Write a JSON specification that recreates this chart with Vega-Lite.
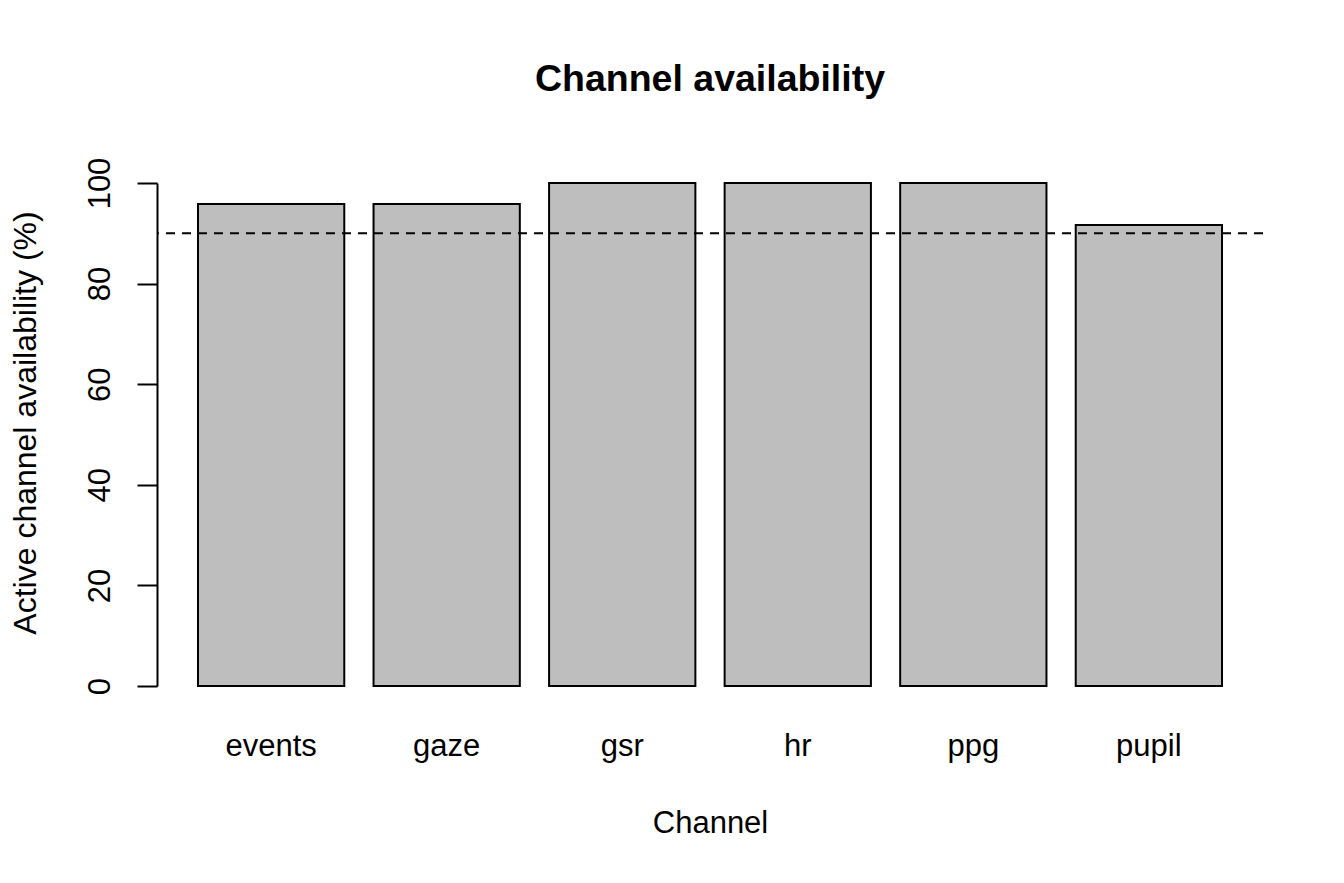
{
  "$schema": "https://vega.github.io/schema/vega-lite/v6.json",
  "description": "Channel availability bar chart",
  "autosize": {"type": "none"},
  "padding": {"left": 157, "top": 163, "right": 81, "bottom": 177},
  "width": 1106,
  "height": 543,
  "background": "white",
  "title": {
    "text": "Channel availability",
    "font": "Liberation Sans",
    "fontSize": 37.5,
    "fontWeight": "bold",
    "color": "black",
    "frame": "group",
    "anchor": "middle",
    "baseline": "alphabetic",
    "offset": 29
  },
  "config": {
    "view": {"stroke": null},
    "axis": {"labelFont": "Liberation Sans", "titleFont": "Liberation Sans", "labelColor": "black", "titleColor": "black", "grid": false}
  },
  "data": {
    "values": [
      {"channel": "events", "availability": 95.83},
      {"channel": "gaze", "availability": 95.83},
      {"channel": "gsr", "availability": 100},
      {"channel": "hr", "availability": 100},
      {"channel": "ppg", "availability": 100},
      {"channel": "pupil", "availability": 91.67}
    ]
  },
  "layer": [
    {
      "mark": {"type": "bar", "fill": "#BEBEBE", "stroke": "black", "strokeWidth": 2},
      "encoding": {
        "x": {
          "field": "channel",
          "type": "nominal",
          "sort": null,
          "title": "Channel",
          "scale": {"paddingInner": 0.1667, "paddingOuter": 0.2335},
          "axis": {
            "domain": false,
            "ticks": false,
            "tickSize": 0,
            "labelAngle": 0,
            "labelFontSize": 31,
            "labelBaseline": "alphabetic",
            "labelPadding": 49,
            "titleFontSize": 31,
            "titleFontWeight": "normal",
            "titleBaseline": "alphabetic",
            "titleY": 126
          }
        },
        "y": {
          "field": "availability",
          "type": "quantitative",
          "title": "Active channel availability (%)",
          "scale": {"domain": [0, 100], "range": [523, 20], "nice": false, "zero": true},
          "axis": {
            "values": [0, 20, 40, 60, 80, 100],
            "domainColor": "black",
            "domainWidth": 2,
            "tickColor": "black",
            "tickWidth": 2,
            "tickSize": 20,
            "labelFontSize": 31,
            "labelAngle": -90,
            "labelAlign": "center",
            "labelBaseline": "alphabetic",
            "labelPadding": 28,
            "titleFontSize": 32,
            "titleFontWeight": "normal",
            "titleBaseline": "alphabetic",
            "titleAngle": -90,
            "titleAlign": "center",
            "titleX": -122,
            "titleY": 259.5
          }
        }
      }
    },
    {
      "data": {"values": [{"threshold": 90}]},
      "mark": {"type": "rule", "color": "black", "strokeWidth": 2, "strokeDash": [9, 7]},
      "encoding": {
        "y": {"field": "threshold", "type": "quantitative"}
      }
    }
  ]
}
